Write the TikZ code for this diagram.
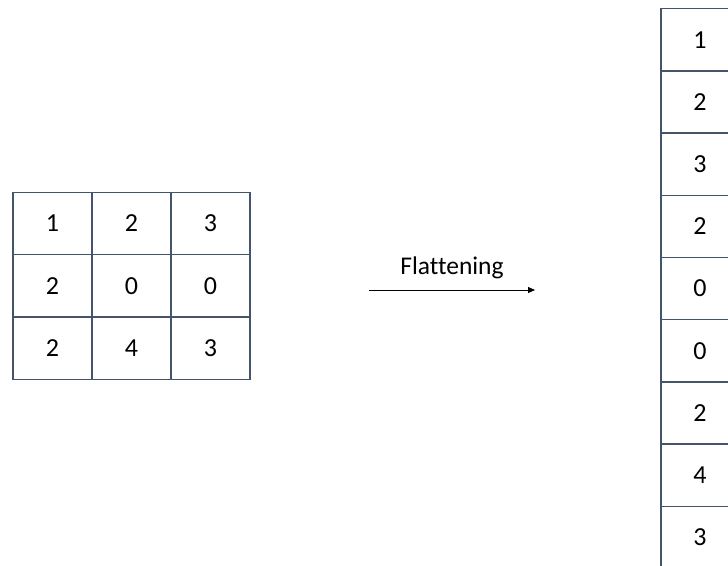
\documentclass[tikz,border=0pt]{standalone}
\usepackage{fontspec}
\setmainfont[Ligatures=NoCommon]{Carlito}
\usetikzlibrary{arrows.meta}
\definecolor{gridline}{RGB}{68,84,106}
\begin{document}
\begin{tikzpicture}[x=1pt,y=1pt,
  cell/.style={draw=gridline, line width=1.3pt, minimum width=79pt, minimum height=62.3pt, inner sep=0pt, font=\fontsize{26}{30}\selectfont},
  vcell/.style={cell, minimum width=78pt, minimum height=62.2pt},
  lbl/.style={font=\fontsize{25.5}{30}\selectfont, inner sep=0pt}]
\useasboundingbox (0,0) rectangle (728,-565);
\clip (0,0) rectangle (728,-565);
% left grid
\foreach \r/\row in {0/{1,2,3},1/{2,0,0},2/{2,4,3}}{
  \foreach \v [count=\c from 0] in \row {
    \node[cell] (g\r\c) at (52.5+79*\c, -223.5-62.3*\r) {\v};
  }
}
% right column
\foreach \v [count=\k from 0] in {1,2,3,2,0,0,2,4,3}{
  \node[vcell] (f\k) at (700, -39.8-62.2*\k) {\v};
}
% arrow
\coordinate (a1) at (369,-290);
\coordinate (a2) at (535,-290);
\draw[line width=0.8pt, -{Triangle[length=7pt,width=6pt]}] (a1) -- (a2);
\node[lbl] (t) at (452,-268) {Flattening};
\end{tikzpicture}
\end{document}
